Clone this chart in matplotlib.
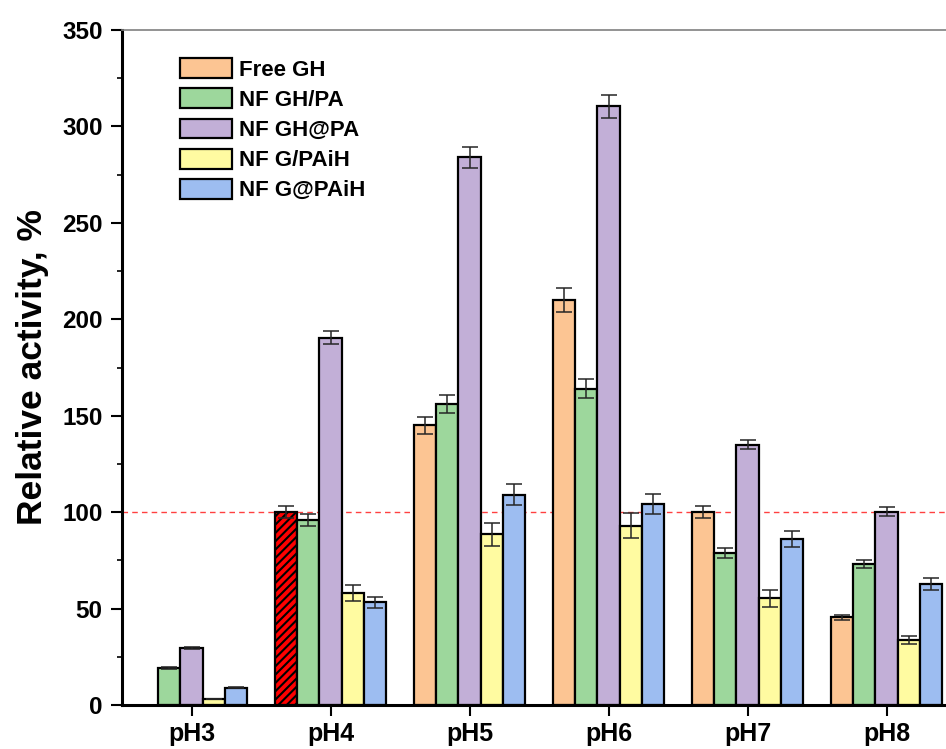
import numpy as np
import matplotlib; matplotlib.use("Agg"); import matplotlib.pyplot as plt
plt.rcParams.update({"font.family":"Liberation Sans","font.weight":"bold","hatch.linewidth":1.5})

groups=["pH3","pH4","pH5","pH6","pH7","pH8"]
series=["Free GH","NF GH/PA","NF GH@PA","NF G/PAiH","NF G@PAiH"]
free_gh=[0,100,145,210,100,45.5]
free_gh_err=[0,3,4.3,6,3,1.3]
nf_gh_pa=[19.3,96,156,164,79,73]
nf_gh_pa_err=[0.5,3,4.6,5,2.6,2]
nf_gh_at_pa=[29.7,190.5,284,310.5,135,100.2]
nf_gh_at_pa_err=[0.5,3.5,5.5,6,2.4,2.3]
nf_g_paih=[3,58,88.6,93,55.3,33.7]
nf_g_paih_err=[0,4.3,6,6.4,4.3,2]
nf_g_at_paih=[9,53.2,109,104.2,86,62.6]
nf_g_at_paih_err=[0.4,2.8,5.5,5.2,4.3,3]
colors=["#fcc593","#9dd79c","#c2afd7","#fffba1","#9dbdf1"]

vals=[free_gh,nf_gh_pa,nf_gh_at_pa,nf_g_paih,nf_g_at_paih]
errs=[free_gh_err,nf_gh_pa_err,nf_gh_at_pa_err,nf_g_paih_err,nf_g_at_paih_err]

fig=plt.figure(figsize=(9.46,7.49),dpi=100)
ax=fig.add_axes([122/946,1-705/749,6*139/946,675/749])
x=np.arange(len(groups)); w=0.16
for i,(name,v,e,c) in enumerate(zip(series,vals,errs,colors)):
    pos=x+(i-2)*w
    v=np.array(v,float); e=np.array(e,float)
    m=v>0
    bars=ax.bar(pos[m],v[m],w,color=c,edgecolor="black",linewidth=1.6,label=name,zorder=2)
    ax.errorbar(pos[m],v[m],yerr=e[m],fmt="none",ecolor="#262626",elinewidth=1.1,capsize=6,capthick=1.1,zorder=3)
    if i==0:
        # reference bar at pH4 drawn red hatched
        b=bars[0]; b.set_facecolor("red"); b.set_hatch("////")
ax.axhline(100,color="red",ls=(0,(4,3)),lw=1,alpha=0.75,zorder=1)

ax.set_xlim(-0.5,5.5); ax.set_ylim(0,350)
ax.set_xticks(x); ax.set_xticklabels(groups,fontsize=18,fontweight="bold")
ax.set_yticks(np.arange(0,351,50)); ax.set_yticks(np.arange(0,351,25),minor=True)
ax.tick_params(axis="y",which="major",length=8,width=1.5,direction="out",labelsize=17.5,pad=6)
ax.tick_params(axis="y",which="minor",length=3.5,width=1.2,direction="out")
ax.tick_params(axis="x",which="major",length=8,width=1.5,direction="out",pad=4)
for lab in ax.get_yticklabels(): lab.set_fontweight("bold")
ax.spines["left"].set_linewidth(2.2); ax.spines["bottom"].set_linewidth(2.2)
ax.spines["top"].set_linewidth(1.2); ax.spines["top"].set_color("#808080")
ax.spines["right"].set_visible(False)
ax.set_ylabel("Relative activity, %",fontsize=25.5,fontweight="bold")
ax.yaxis.set_label_coords(-0.088,0.5)

h,l=ax.get_legend_handles_labels()
h[0]=plt.Rectangle((0,0),1,1,facecolor=colors[0],edgecolor="black",linewidth=1.6)
leg=ax.legend(h,l,loc="upper left",bbox_to_anchor=(0.0695,0.958),frameon=False,fontsize=16,borderpad=0,
              borderaxespad=0,handlelength=2.35,handleheight=1.0,labelspacing=0.34,handletextpad=0.3)
for t in leg.get_texts(): t.set_fontweight("bold")
fig.savefig("out.png",dpi=100)
